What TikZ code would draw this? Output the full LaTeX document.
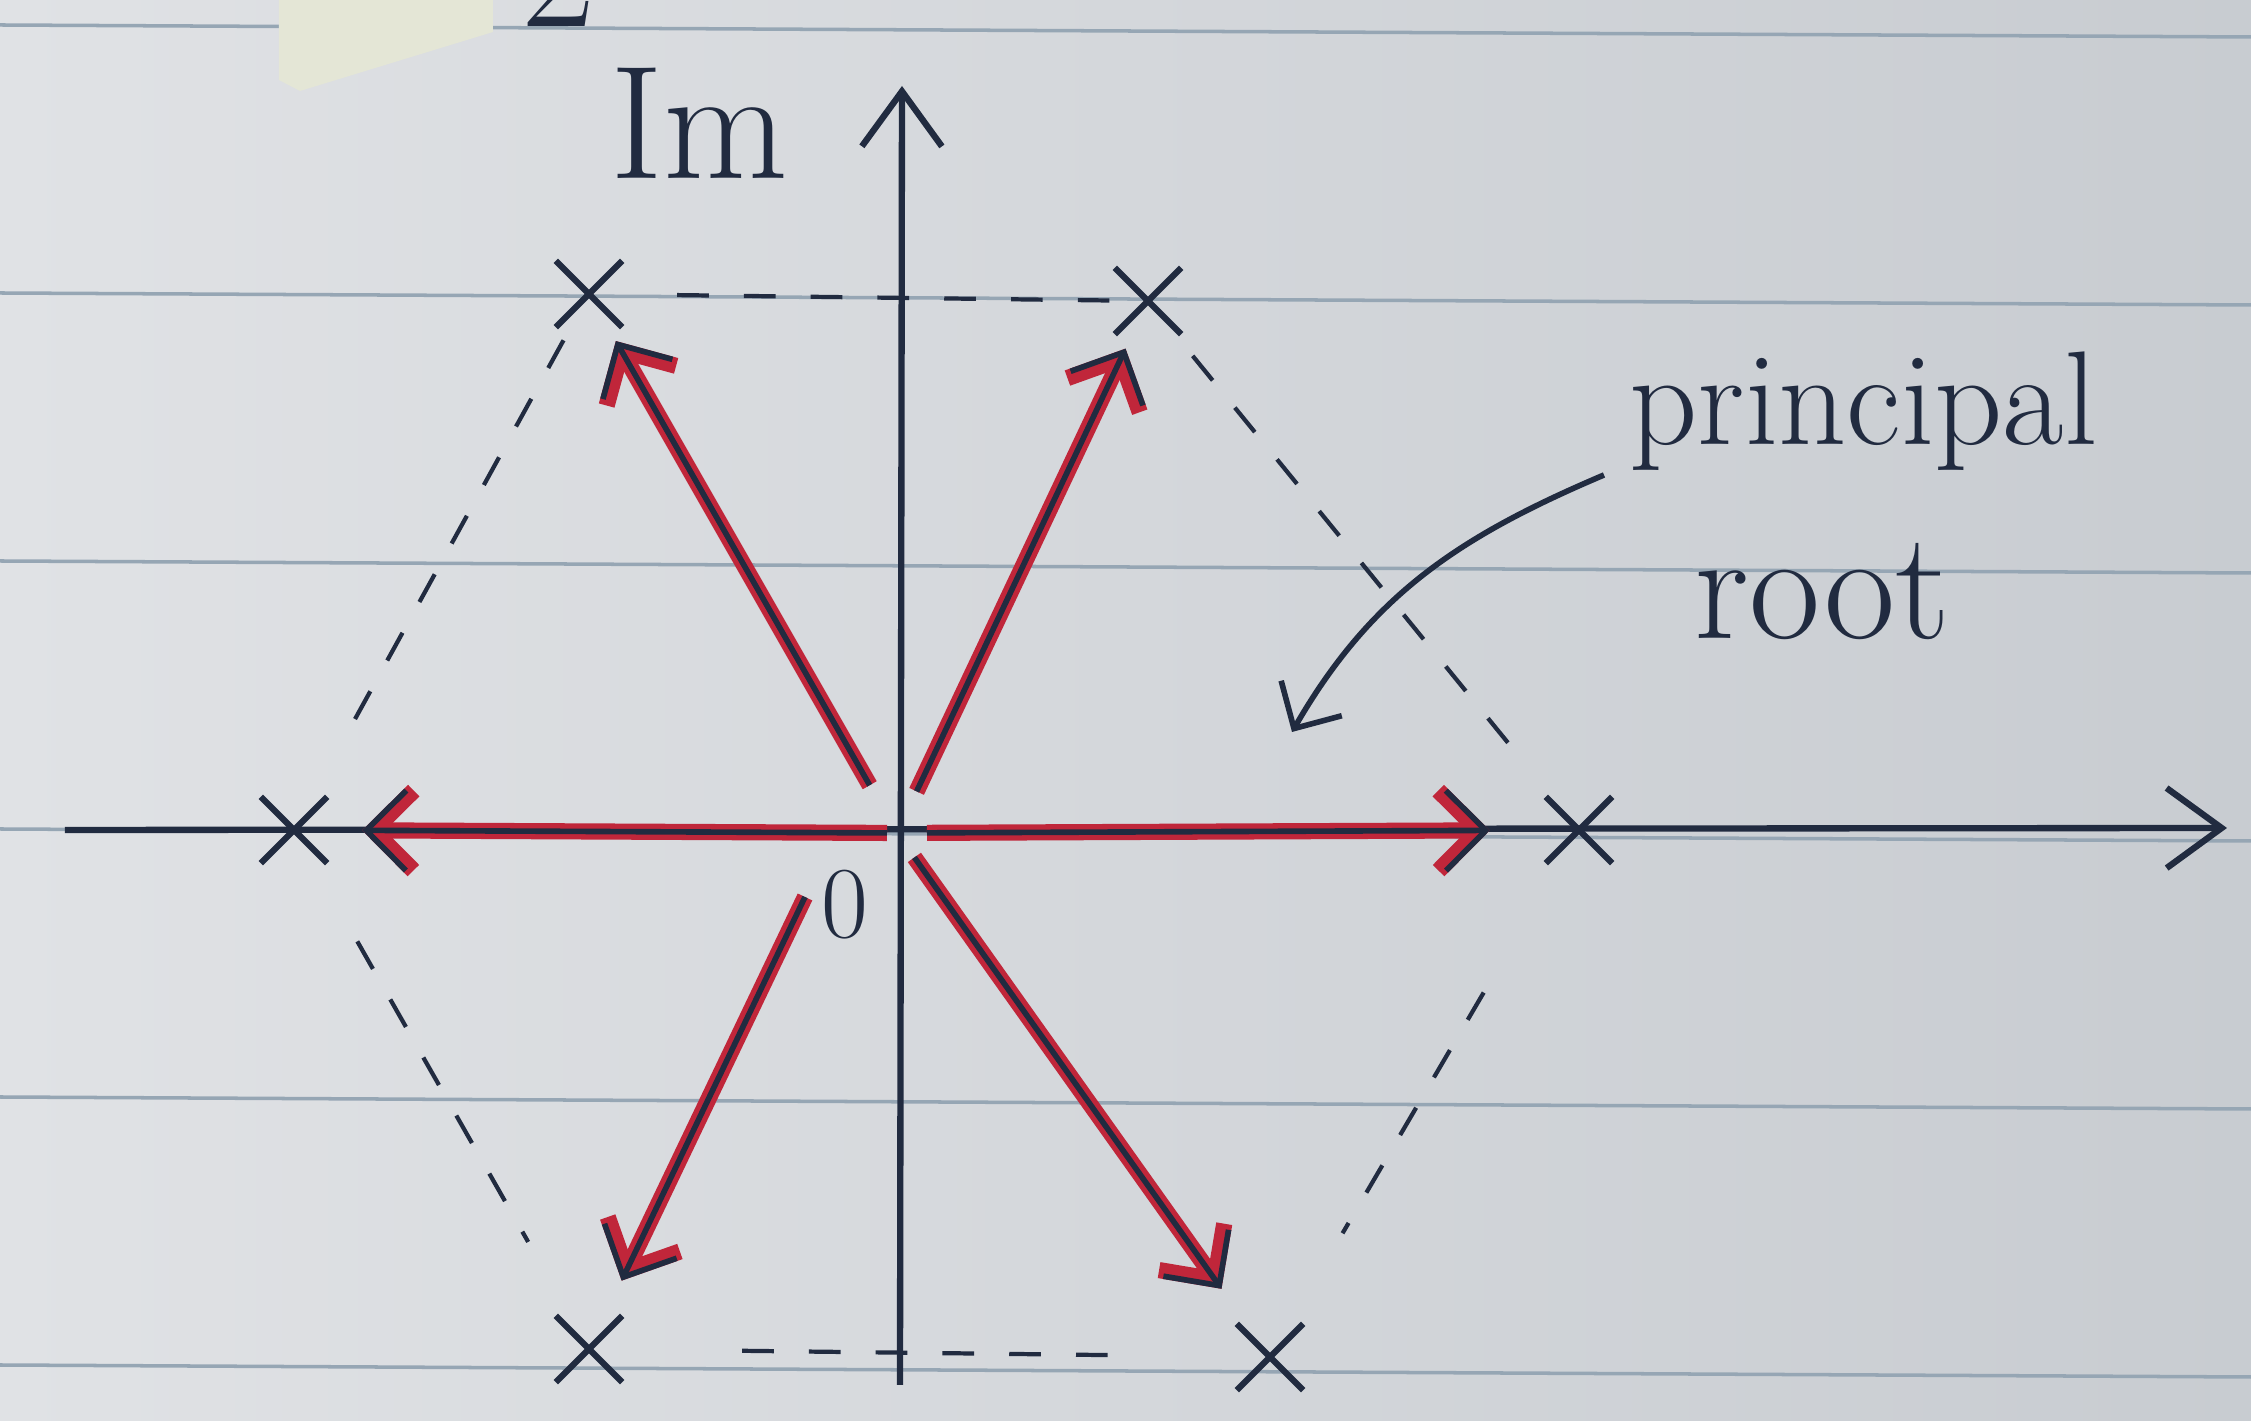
\documentclass[tikz,border=0pt]{standalone}
\usepackage{tikz}
\usetikzlibrary{arrows.meta, shapes.misc}

\definecolor{paperlight}{RGB}{224,226,229}
\definecolor{paperdark}{RGB}{200,204,209}
\definecolor{ruling}{RGB}{150,166,180}
\definecolor{ink}{RGB}{33,43,64}
\definecolor{redink}{RGB}{192,38,58}
\definecolor{sticky}{RGB}{228,230,214}

\begin{document}
\begin{tikzpicture}[
    >={Straight Barb[length=0.4cm, width=0.8cm]},
    rootmark/.style={cross out, draw=ink, line width=1.8pt, minimum size=0.6cm, inner sep=0pt},
    axisline/.style={draw=ink, line width=1.8pt, -{Straight Barb[length=0.55cm, width=0.8cm]}},
    hexline/.style={draw=ink, line width=1.2pt, dash pattern=on 9pt off 10pt},
    redarrow/.style={draw=redink, line width=4.6pt, ->},
    inkarrow/.style={draw=ink, line width=1.6pt, ->},
    hand/.style={text=ink, font=\fontsize{38}{44}\selectfont, inner sep=0pt, anchor=base west},
    ruled/.style={draw=ruling, line width=1pt}
]

\useasboundingbox (-8.97,-5.88) rectangle (13.54,8.33);
\clip (-8.97,-5.88) rectangle (13.54,8.33);

% paper
\shade[left color=paperlight, right color=paperdark] (-8.97,-5.88) rectangle (13.54,8.33);
\draw[ruled] (-8.97,8.08) -- (13.54,7.96);
\draw[ruled] (-8.97,5.40) -- (13.54,5.28);
\draw[ruled] (-8.97,2.72) -- (13.54,2.60);
\draw[ruled] (-8.97,0.04) -- (13.54,-0.08);
\draw[ruled] (-8.97,-2.64) -- (13.54,-2.76);
\draw[ruled] (-8.97,-5.32) -- (13.54,-5.44);
\fill[sticky] (-6.18,8.4) -- (-4.04,8.4) -- (-4.04,8.01) -- (-5.97,7.42) -- (-6.18,7.53) -- cycle;
\node[hand, anchor=base, font=\fontsize{46}{50}\selectfont] (two) at (-3.38,8.06) {2};

% axes
\coordinate (O) at (0,0);
\coordinate (xstart) at (-8.32,0.03);
\coordinate (xend) at (13.3,0.05);
\coordinate (ystart) at (0.03,-5.52);
\coordinate (yend) at (0.05,7.47);
\draw[axisline] (xstart) -- (xend);
\draw[axisline] (ystart) -- (yend);

% the six roots
\node[rootmark] (A) at (-3.08,5.39) {};
\node[rootmark] (B) at (2.51,5.32) {};
\node[rootmark] (C) at (6.82,0.03) {};
\node[rootmark] (D) at (-6.03,0.03) {};
\node[rootmark] (E) at (-3.08,-5.16) {};
\node[rootmark] (F) at (3.73,-5.24) {};

\draw[hexline, shorten <=0.55cm] (A) -- (B);
\draw[hexline, shorten <=0.28cm, shorten >=0.5cm] (B) -- (C);
\draw[hexline, shorten <=1.5cm, shorten >=1.05cm] (C) -- (F);
\draw[hexline, shorten <=1.2cm, shorten >=1.2cm] (E) -- (F);
\draw[hexline, shorten <=0.9cm, shorten >=0.85cm] (D) -- (E);
\draw[hexline, shorten <=0.15cm, shorten >=0.8cm] (A) -- (D);

% vectors to the roots
\coordinate (Estart) at (-0.92,-0.64);
\draw[redarrow, shorten <=0.55cm, shorten >=0.16cm] (O) -- (A);
\draw[inkarrow, shorten <=0.55cm, shorten >=0.16cm] (O) -- (A);
\draw[redarrow, shorten <=0.46cm, shorten >=0.16cm] (O) -- (B);
\draw[inkarrow, shorten <=0.46cm, shorten >=0.16cm] (O) -- (B);
\draw[redarrow, shorten <=0.3cm, shorten >=0.56cm] (O) -- (C);
\draw[inkarrow, shorten <=0.3cm, shorten >=0.56cm] (O) -- (C);
\draw[redarrow, shorten <=0.1cm, shorten >=0.35cm] (O) -- (D);
\draw[inkarrow, shorten <=0.1cm, shorten >=0.35cm] (O) -- (D);
\draw[redarrow, shorten >=0.39cm] (Estart) -- (E);
\draw[inkarrow, shorten >=0.39cm] (Estart) -- (E);
\draw[redarrow, shorten <=0.3cm, shorten >=0.43cm] (O) -- (F);
\draw[inkarrow, shorten <=0.3cm, shorten >=0.43cm] (O) -- (F);

% labels
\node[hand, font=\fontsize{46}{50}\selectfont] (Im) at (-2.87,6.54) {Im};
\node[hand, anchor=center, font=\fontsize{29}{32}\selectfont] (zero) at (-0.52,-0.72) {0};
\node[hand] (principal) at (7.32,3.88) {principal};
\node[hand, font=\fontsize{44}{50}\selectfont] (rootlabel) at (7.97,1.94) {root};

\coordinate (pointer) at (3.95,1.01);
\draw[ink, line width=1.6pt, -{Straight Barb[length=0.35cm, width=0.7cm]}] ([xshift=-0.25cm, yshift=-0.3cm]principal.base west) to[out=203, in=60] (pointer);

\end{tikzpicture}
\end{document}
